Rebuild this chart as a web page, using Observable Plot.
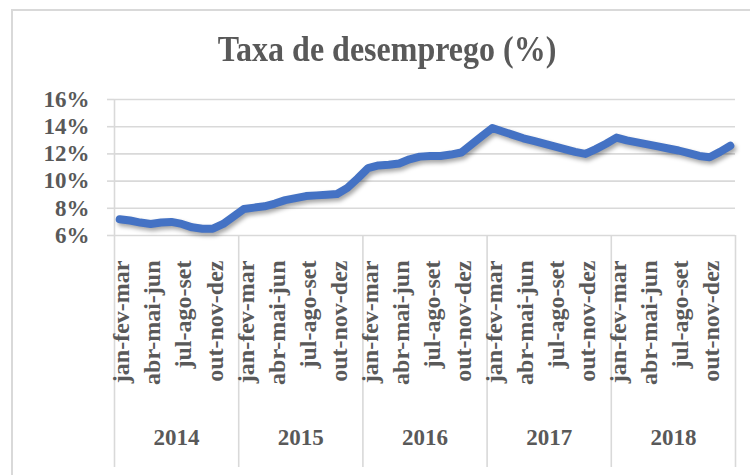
<!DOCTYPE html>
<html>
<head>
<meta charset="utf-8">
<script src="https://cdn.jsdelivr.net/npm/d3@7"></script>
<script src="https://cdn.jsdelivr.net/npm/@observablehq/plot@0.6"></script>
<style>
  html, body { margin: 0; padding: 0; background: #fff; }
  #wrap { position: relative; width: 750px; height: 475px; overflow: hidden; background: #fff; }
  #frame { position: absolute; left: 11px; top: 9px; width: 800px; height: 520px; border: 2px solid #d9d9d9; box-sizing: border-box; pointer-events: none; }
  #title { position: relative; width: 774px; height: 70px; box-sizing: border-box; padding-top: 33px; text-align: center;
           font-family: "Liberation Serif", "Times New Roman", serif; font-weight: bold; font-size: 32px; line-height: 32px; color: #595959; }
  #title span { display: inline-block; transform: scaleY(1.1); }
  #chart { position: relative; }
</style>
</head>
<body>
<div id="wrap">
  <div id="frame"></div>
  <div id="title"><span>Taxa de desemprego (%)</span></div>
  <div id="chart"></div>
</div>
<script>
const quarters = ["jan-fev-mar","fev-mar-abr","mar-abr-mai","abr-mai-jun","mai-jun-jul","jun-jul-ago",
                  "jul-ago-set","ago-set-out","set-out-nov","out-nov-dez","nov-dez-jan","dez-jan-fev"];
const years = ["2014","2015","2016","2017","2018"];
const rate2014 = [7.2, 7.1, 6.95, 6.85, 6.95, 7.0, 6.85, 6.6, 6.5, 6.5, 6.85, 7.4];
const rate2015 = [7.95, 8.05, 8.15, 8.35, 8.6, 8.75, 8.9, 8.95, 9.0, 9.05, 9.5, 10.2];
const rate2016 = [10.95, 11.15, 11.2, 11.3, 11.6, 11.8, 11.85, 11.85, 11.95, 12.1, 12.7, 13.3];
const rate2017 = [13.9, 13.65, 13.4, 13.15, 12.95, 12.75, 12.55, 12.35, 12.15, 12.0, 12.35, 12.75];
const rate2018 = [13.2, 13.0, 12.85, 12.7, 12.55, 12.4, 12.25, 12.05, 11.85, 11.75, 12.15, 12.6];
const yTicks = [6, 8, 10, 12, 14, 16];

const rates = [rate2014, rate2015, rate2016, rate2017, rate2018];
const n = quarters.length;
const data = years.flatMap((yr, yi) => rates[yi].map((v, qi) => ({i: yi * n + qi + 0.5, year: yr, quarter: quarters[qi], v})));
const labelTicks = data.filter((d, k) => k % 3 === 0).map(d => d.i);
const yearBounds = d3.range(0, years.length + 1).map(k => k * n);
const yearMids = years.map((_, k) => k * n + n / 2);

const gray = "#d9d9d9";
const font = {fontFamily: '"Liberation Serif", "Times New Roman", serif', fontSize: "23px", fontWeight: "bold", color: "#595959", background: "transparent"};

const chart = Plot.plot({
  width: 750,
  height: 405,
  marginLeft: 114,
  marginRight: 15,
  marginTop: 29,
  marginBottom: 240,
  style: font,
  x: {type: "linear", domain: [0, years.length * n], axis: null},
  y: {domain: [6, 16], axis: null},
  marks: [
    Plot.gridY(yTicks, {stroke: gray, strokeOpacity: 1, strokeWidth: 1.6}),
    Plot.ruleX([0], {stroke: gray, strokeWidth: 1.6}),
    Plot.axisY({ticks: yTicks, tickFormat: d => d + "%", tickSize: 7, tickPadding: 18, stroke: gray, strokeWidth: 1.6, fill: "#595959", label: null}),
    Plot.axisX({ticks: yearBounds, tickFormat: () => "", tickSize: 232, stroke: gray, strokeWidth: 1.6, label: null}),
    Plot.axisX({ticks: labelTicks, tickFormat: d => quarters[Math.floor(d) % n], tickSize: 0, tickPadding: 25, tickRotate: -90, fill: "#595959", dx: 2, fontSize: 24, label: null}),
    Plot.axisX({ticks: yearMids, tickFormat: (d, k) => years[k], tickSize: 0, tickPadding: 193, fill: "#595959", label: null}),
    Plot.line(data, {x: "i", y: "v", stroke: "#000", strokeOpacity: 0.35, strokeWidth: 8, dx: 2, dy: 3, strokeLinejoin: "round", strokeLinecap: "round", className: "shadow"}),
    Plot.line(data, {x: "i", y: "v", stroke: "#4472c4", strokeWidth: 8, strokeLinejoin: "round", strokeLinecap: "round"})
  ]
});
document.getElementById("chart").appendChild(chart);
chart.querySelectorAll(".shadow").forEach(g => g.style.filter = "blur(2px)");
</script>
</body>
</html>
